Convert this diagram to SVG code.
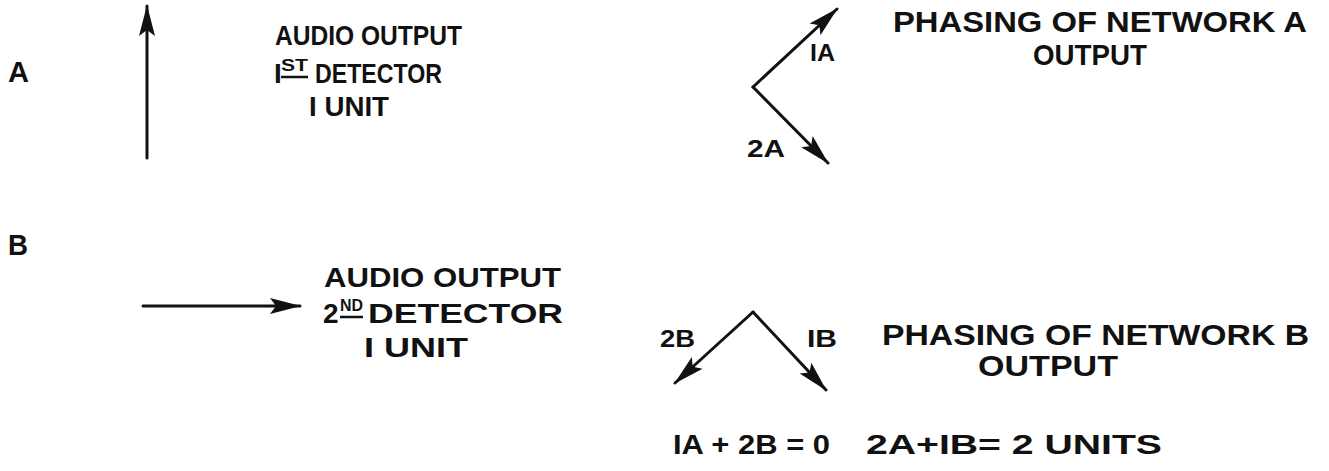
<svg xmlns="http://www.w3.org/2000/svg" width="1329" height="471" viewBox="0 0 1329 471">
<style>
.t{font-family:"Liberation Sans",Arial,sans-serif;font-weight:bold;fill:#111;font-size:28px}
.h{font-family:"Liberation Sans",Arial,sans-serif;font-weight:bold;fill:#111;font-size:30px}
.l{font-family:"Liberation Sans",Arial,sans-serif;font-weight:bold;fill:#111;font-size:24px}
.s{font-family:"Liberation Sans",Arial,sans-serif;font-weight:bold;fill:#111;font-size:16px}
.c{stroke:#111;stroke-width:3;fill:none;stroke-linecap:round}
.u{stroke:#111;stroke-width:2.5}
</style>
<defs>
<marker id="ah" markerUnits="userSpaceOnUse" markerWidth="40" markerHeight="20" viewBox="-34 -10 40 20" refX="0" refY="0" orient="auto">
<path d="M1,0 L-30,-8 L-24,0 L-30,8 Z" fill="#111"/>
</marker>
</defs>
<rect width="1329" height="471" fill="#fff"/>
<g id="connectors">
<line class="c" x1="147" y1="158" x2="147" y2="6" marker-end="url(#ah)"/>
<line class="c" x1="143" y1="306" x2="300" y2="306" marker-end="url(#ah)"/>
<line class="c" x1="753" y1="87" x2="837" y2="9" marker-end="url(#ah)"/>
<line class="c" x1="753" y1="87" x2="828" y2="163" marker-end="url(#ah)"/>
<line class="c" x1="753" y1="312" x2="675" y2="383" marker-end="url(#ah)"/>
<line class="c" x1="753" y1="312" x2="826" y2="390" marker-end="url(#ah)"/>
</g>
<g id="label-A"><text class="h" x="8" y="82" textLength="21" lengthAdjust="spacingAndGlyphs">A</text></g>
<g id="label-B"><text class="h" x="8" y="255" textLength="20" lengthAdjust="spacingAndGlyphs">B</text></g>
<g id="text-A">
<text class="t" x="275" y="45" textLength="187" lengthAdjust="spacingAndGlyphs">AUDIO OUTPUT</text>
<text class="t" x="274" y="83">I</text>
<text class="s" x="281" y="71" textLength="27" lengthAdjust="spacingAndGlyphs">ST</text>
<line class="u" x1="281" y1="77" x2="308" y2="77"/>
<text class="t" x="315" y="83" textLength="127" lengthAdjust="spacingAndGlyphs">DETECTOR</text>
<text class="t" x="309" y="116" textLength="80" lengthAdjust="spacingAndGlyphs">I UNIT</text>
</g>
<g id="vectors-A">
<text class="l" x="810" y="61" textLength="25" lengthAdjust="spacingAndGlyphs">IA</text>
<text class="l" x="747" y="157" textLength="38" lengthAdjust="spacingAndGlyphs">2A</text>
</g>
<g id="title-A">
<text class="h" x="893" y="32" textLength="414" lengthAdjust="spacingAndGlyphs">PHASING OF NETWORK A</text>
<text class="h" x="1033" y="65" textLength="114" lengthAdjust="spacingAndGlyphs">OUTPUT</text>
</g>
<g id="text-B">
<text class="t" x="324" y="287" textLength="237" lengthAdjust="spacingAndGlyphs">AUDIO OUTPUT</text>
<text class="t" x="323" y="323">2</text>
<text class="s" x="340" y="311" textLength="23" lengthAdjust="spacingAndGlyphs">ND</text>
<line class="u" x1="340" y1="317" x2="363" y2="317"/>
<text class="t" x="368" y="323" textLength="195" lengthAdjust="spacingAndGlyphs">DETECTOR</text>
<text class="t" x="364" y="357" textLength="104" lengthAdjust="spacingAndGlyphs">I UNIT</text>
</g>
<g id="vectors-B">
<text class="l" x="660" y="347" textLength="35" lengthAdjust="spacingAndGlyphs">2B</text>
<text class="l" x="807" y="347" textLength="30" lengthAdjust="spacingAndGlyphs">IB</text>
</g>
<g id="title-B">
<text class="h" x="882" y="345" textLength="427" lengthAdjust="spacingAndGlyphs">PHASING OF NETWORK B</text>
<text class="h" x="978" y="376" textLength="140" lengthAdjust="spacingAndGlyphs">OUTPUT</text>
</g>
<g id="equations">
<text class="t" x="673" y="454" textLength="157" lengthAdjust="spacingAndGlyphs">IA + 2B = 0</text>
<text class="t" x="866" y="454" textLength="296" lengthAdjust="spacingAndGlyphs">2A+IB= 2 UNITS</text>
</g>
</svg>
